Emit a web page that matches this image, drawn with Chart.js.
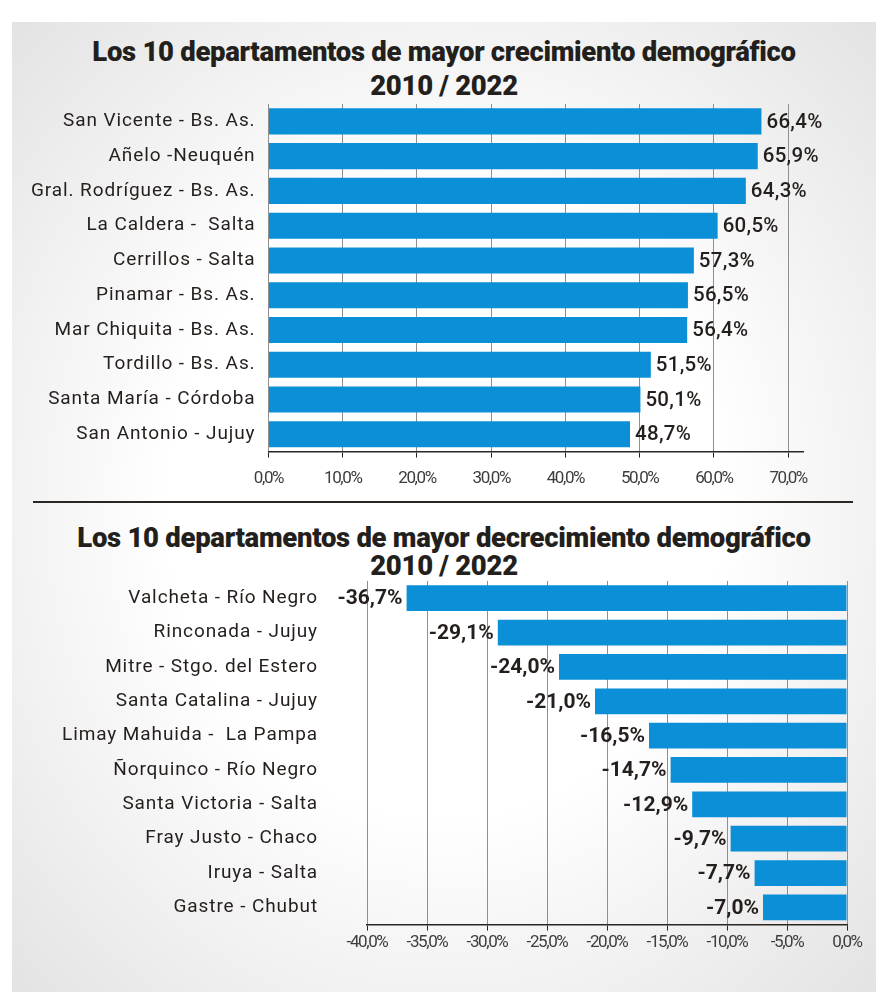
<!DOCTYPE html>
<html>
<head>
<meta charset="utf-8">
<script src="https://cdn.jsdelivr.net/npm/chart.js@4.4.1/dist/chart.umd.min.js"></script>
<style>
  html, body { margin: 0; padding: 0; background: #fff; }
  body { width: 888px; height: 999px; position: relative; overflow: hidden; }
  #panel {
    position: absolute; left: 12px; top: 22px; width: 864px; height: 970px;
    background: radial-gradient(ellipse at 50% 50%, #ffffff 45%, #e3e3e3 100%);
  }
  #divider { position: absolute; left: 33px; top: 501px; width: 820px; height: 2px; background: #2b2622; }
  .box { position: absolute; left: 10px; width: 866px; }
  #topBox { top: 22px; height: 478px; }
  #botBox { top: 505px; height: 480px; }
  .title {
    position: absolute; left: 0; width: 888px; text-align: center;
    font-family: Roboto, sans-serif; font-weight: 900; font-size: 27.5px;
    color: #231f1c; letter-spacing: -0.3px; line-height: 32px; white-space: pre;
  }
</style>
</head>
<body>
<div id="panel"></div>
<div id="divider"></div>
<div class="title" id="t1a" style="top:36px"></div>
<div class="title" id="t1b" style="top:70px"></div>
<div class="title" id="t2a" style="top:522px"></div>
<div class="title" id="t2b" style="top:550px"></div>
<div class="box" id="topBox"><canvas id="chart-top"></canvas></div>
<div class="box" id="botBox"><canvas id="chart-bot"></canvas></div>
<script>
// ---------- data ----------
const growthLabels = [
  'San Vicente - Bs. As.', 'Añelo -Neuquén', 'Gral. Rodríguez - Bs. As.', 'La Caldera -  Salta',
  'Cerrillos - Salta', 'Pinamar - Bs. As.', 'Mar Chiquita - Bs. As.', 'Tordillo - Bs. As.',
  'Santa María - Córdoba', 'San Antonio - Jujuy'
];
const growthValues = [66.4, 65.9, 64.3, 60.5, 57.3, 56.5, 56.4, 51.5, 50.1, 48.7];

const declineLabels = [
  'Valcheta - Río Negro', 'Rinconada - Jujuy', 'Mitre - Stgo. del Estero', 'Santa Catalina - Jujuy',
  'Limay Mahuida -  La Pampa', 'Ñorquinco - Río Negro', 'Santa Victoria - Salta', 'Fray Justo - Chaco',
  'Iruya - Salta', 'Gastre - Chubut'
];
const declineValues = [-36.7, -29.1, -24.0, -21.0, -16.5, -14.7, -12.9, -9.7, -7.7, -7.0];

const topTitle = ['Los 10 departamentos de mayor crecimiento demográfico', '2010 / 2022'];
const botTitle = ['Los 10 departamentos de mayor decrecimiento demográfico', '2010 / 2022'];

document.getElementById('t1a').textContent = topTitle[0];
document.getElementById('t1b').textContent = topTitle[1];
document.getElementById('t2a').textContent = botTitle[0];
document.getElementById('t2b').textContent = botTitle[1];

const BLUE = '#0b8fd6';
const TXT = '#241f1c';
const pct = v => v.toFixed(1).replace('.', ',') + '%';

// x tick labels are set tight; value labels and category labels get their own spacing
const valueLabels = {
  id: 'valueLabels',
  beforeDraw(chart) {
    chart.ctx.letterSpacing = '-1.4px';
  },
  afterDatasetsDraw(chart, args, opts) {
    const ctx = chart.ctx;
    const meta = chart.getDatasetMeta(0);
    ctx.save();
    ctx.letterSpacing = opts.spacing;
    ctx.fillStyle = TXT;
    ctx.font = opts.font;
    ctx.textBaseline = 'middle';
    meta.data.forEach((bar, i) => {
      const v = chart.data.datasets[0].data[i];
      if (v >= 0) {
        ctx.textAlign = 'left';
        ctx.fillText(pct(v), bar.x + 5, bar.y + 1);
      } else {
        ctx.textAlign = 'right';
        ctx.fillText(pct(v), bar.x - 4, bar.y + 1);
      }
    });
    ctx.restore();
    // y tick labels (ticks.z = 1) are drawn after this
    ctx.letterSpacing = '0.9px';
  }
};

function makeChart(id, labels, values, opt) {
  const ctx = document.getElementById(id).getContext('2d');
  return new Chart(ctx, {
    type: 'bar',
    data: {
      labels: labels,
      datasets: [{
        data: values,
        backgroundColor: BLUE,
        borderWidth: 0,
        categoryPercentage: 1,
        barPercentage: 0.75
      }]
    },
    options: {
      indexAxis: 'y',
      responsive: true,
      maintainAspectRatio: false,
      animation: false,
      layout: { padding: { left: 0, right: opt.padRight, top: opt.padTop, bottom: opt.padBottom } },
      plugins: {
        legend: { display: false },
        tooltip: { enabled: false },
        title: { display: false },
        valueLabels: { font: opt.valueFont, spacing: opt.valueSpacing }
      },
      scales: {
        x: {
          min: opt.min,
          max: opt.max,
          grid: {
            color: '#8f8f8f',
            lineWidth: 1,
            drawTicks: true,
            tickLength: 6,
            tickColor: '#2b2622'
          },
          border: { display: true, color: '#2b2622', width: 1.5 },
          ticks: {
            stepSize: opt.step,
            includeBounds: false,
            padding: opt.tickPad,
            color: '#3d3d3d',
            font: { family: 'Roboto', size: 17 },
            callback: v => pct(v)
          }
        },
        y: {
          afterFit: s => { s.width = opt.yWidth; },
          grid: { display: false, drawTicks: false },
          border: { display: false },
          ticks: {
            z: 1,
            padding: opt.yPad,
            color: TXT,
            font: { family: 'Roboto', size: 19 }
          }
        }
      }
    },
    plugins: [valueLabels]
  });
}

makeChart('chart-top', growthLabels, growthValues, {
  min: 0, max: 72, step: 10, tickPad: 11,
  padTop: 82, padBottom: 0, padRight: 73, yWidth: 258.5, yPad: 13,
  valueFont: '500 20.5px Roboto', valueSpacing: '0.3px'
});

makeChart('chart-bot', declineLabels, declineValues, {
  min: -40, max: 0, step: 5, tickPad: 2,
  padTop: 76, padBottom: 11, padRight: 29, yWidth: 357, yPad: 49,
  valueFont: 'bold 21px Roboto', valueSpacing: '0px'
});
</script>
</body>
</html>
